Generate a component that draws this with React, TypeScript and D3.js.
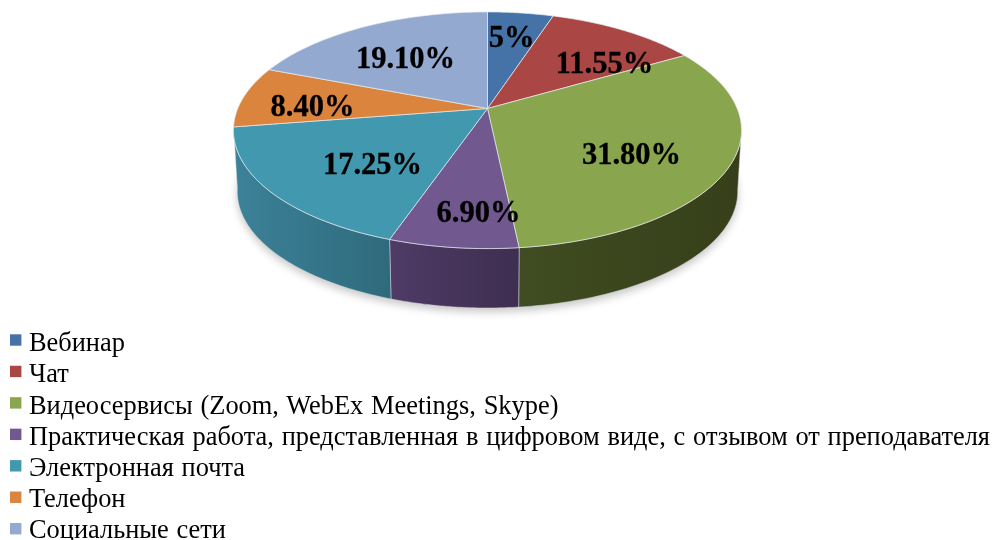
import React from "react";
import * as d3 from "d3";

const categories = [
  "Вебинар",
  "Чат",
  "Видеосервисы (Zoom, WebEx Meetings, Skype)",
  "Практическая работа, представленная в цифровом виде, с отзывом от преподавателя",
  "Электронная почта",
  "Телефон",
  "Социальные сети",
];
const shares = [5, 11.55, 31.8, 6.9, 17.25, 8.4, 19.1];
const shareLabels = ["5%", "11.55%", "31.80%", "6.90%", "17.25%", "8.40%", "19.10%"];
const topColors = ["#4572a7", "#aa4643", "#89a54e", "#71588f", "#4198af", "#db843d", "#93a9cf"];
const wallLight = ["#3a5f8b", "#8d3a38", "#404c21", "#4f3b66", "#3c8299", "#b56d32", "#7a8cab"];
const wallDark = ["#2f4d70", "#6f2e2c", "#363f19", "#3e2e50", "#2f6a7c", "#8f5628", "#61708a"];

// layout
const W = 995, H = 540;
const cx = 487.5, cy = 108.5, R = 249.7, S = 114.3, k = 0.184;
const lowScale = 0.985, lowCy = 170;
const labelOffsets: [number, number][] = [
  [24, -72], [117, -46], [144, 45], [-9, 103], [-115, 55], [-175, -3], [-82, -51],
];
const legendX = 10, legendTextX = 29, baseline0 = 351.3, baselineStep = 31.1, swatchY0 = 340, swatchStep = 31.45;

function project(theta: number): [number, number] {
  const x = Math.sin(theta), y = -Math.cos(theta);
  const w = 1 - k * y;
  return [(R * x) / w, (S * y) / w];
}
const topPt = (t: number): [number, number] => {
  const [x, y] = project(t);
  return [cx + x, cy + y];
};
const lowPt = (t: number): [number, number] => {
  const [x, y] = project(t);
  return [cx + x * lowScale, lowCy + y * lowScale];
};

const pieGen = d3.pie<number>().sort(null).value((d) => d);
const arcs = pieGen(shares);
const line = d3.line();

function samples(a0: number, a1: number): number[] {
  return d3.range(0, 61).map((i) => a0 + ((a1 - a0) * i) / 60);
}
function topPath(a0: number, a1: number) {
  return line([[cx, cy], ...samples(a0, a1).map(topPt)]) + "Z";
}
function wallPath(a0: number, a1: number) {
  const ts = samples(a0, a1);
  return line([...ts.map(topPt), ...ts.slice().reverse().map(lowPt)]) + "Z";
}
// the walls run from the right-most point of the rim to the last front slice
const visLo = (100 * Math.PI) / 180;
const visHi = arcs[4].endAngle;
const wallOrder = d3.range(arcs.length).filter((i) => arcs[i].endAngle > visLo && arcs[i].startAngle < visHi);

export default function App() {
  const shadow = d3.range(0, 121).map((i) => lowPt((i / 120) * 2 * Math.PI));
  return (
    <svg
      width={W}
      height={H}
      viewBox={`0 0 ${W} ${H}`}
      style={{ position: "absolute", left: 0, top: 0, background: "#fff" }}
    >
      <defs>
        <filter id="soft" x="-10%" y="-10%" width="120%" height="130%">
          <feGaussianBlur stdDeviation="4" />
        </filter>
        {wallOrder.map((i) => (
          <linearGradient key={i} id={`wall${i}`} x1="0" x2="1" y1="0" y2="0">
            <stop offset="0" stopColor={wallLight[i]} />
            <stop offset="1" stopColor={wallDark[i]} />
          </linearGradient>
        ))}
      </defs>
      <path d={line(shadow) + "Z"} transform="translate(0,4)" fill="#000" opacity={0.22} filter="url(#soft)" />
      <g style={{ filter: "blur(0.35px)" }}>
        {wallOrder.map((i) => {
          const a0 = Math.max(arcs[i].startAngle, visLo);
          const a1 = Math.min(arcs[i].endAngle, visHi);
          return <path key={i} d={wallPath(a0, a1)} fill={`url(#wall${i})`} stroke="#d8dde0" strokeWidth={0.7} strokeOpacity={0.7} />;
        })}
        {arcs.map((a, i) => (
          <path
            key={i}
            d={topPath(a.startAngle, a.endAngle)}
            fill={topColors[i]}
            stroke="#e6ebee"
            strokeWidth={0.9}
            strokeOpacity={0.8}
            strokeLinejoin="round"
          />
        ))}
        {shareLabels.map((t, i) => (
          <text
            key={i}
            x={cx + labelOffsets[i][0]}
            y={cy + labelOffsets[i][1]}
            textAnchor="middle"
            dominantBaseline="central"
            fontFamily="'Liberation Serif', serif"
            fontWeight="bold"
            fontSize={30.5}
            fill="#000"
            stroke="#000"
            strokeWidth={0.3}
          >
            {t}
          </text>
        ))}
        {categories.map((c, i) => (
          <g key={i}>
            <rect x={legendX} y={swatchY0 + i * swatchStep - 5.7} width={11.4} height={11.4} fill={topColors[i]} />
            <text
              x={legendTextX}
              y={baseline0 + i * baselineStep}
              fontFamily="'Liberation Serif', serif"
              fontSize={26.4}
              wordSpacing={1.2}
              fill="#000"
            >
              {c}
            </text>
          </g>
        ))}
      </g>
    </svg>
  );
}
